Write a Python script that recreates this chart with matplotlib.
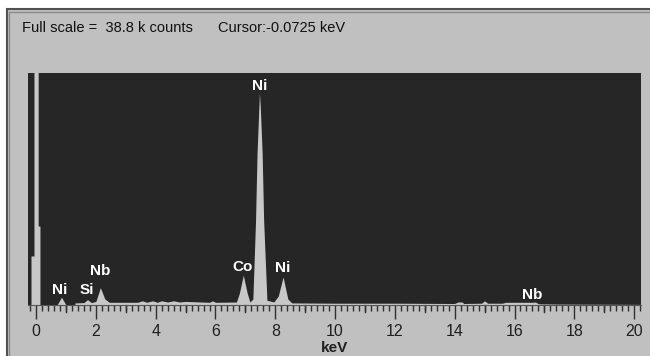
import matplotlib.pyplot as plt
from matplotlib.patches import Rectangle
from matplotlib.ticker import MultipleLocator

# outline of the spectrum: energy (keV), counts (k)
energy = [-0.27, -0.17, -0.17, -0.07, -0.07, 0.07, 0.07, 0.13, 0.13,
          0.70, 0.85, 1.00, 1.30, 1.30, 1.60, 1.72, 1.85, 2.00, 2.15, 2.30, 2.45,
          3.40, 3.55, 3.70, 3.90, 4.05, 4.20, 4.40, 4.60, 4.80, 5.00, 5.80, 5.90, 6.00,
          6.70, 6.80, 6.93, 7.06, 7.15, 7.25, 7.34, 7.39, 7.45, 7.47, 7.50, 7.56,
          7.61, 7.72, 7.95, 8.10, 8.26, 8.42, 8.55, 10.0, 12.0, 14.0, 14.1, 14.25,
          14.3, 14.9, 15.0, 15.1, 15.6, 15.7, 16.6, 16.7, 16.8, 17.5, 20.23]
counts = [0, 0, 8.2, 8.2, 45, 45, 13.2, 13.2, 0,
          0, 1.3, 0, 0, 0.35, 0.4, 0.9, 0.4, 0.6, 2.9, 1.0, 0.45,
          0.45, 0.7, 0.45, 0.7, 0.45, 0.7, 0.5, 0.7, 0.5, 0.6, 0.45, 0.7, 0.45,
          0.5, 2.0, 5.0, 2.0, 0.5, 1.0, 14.2, 25.4, 33.0, 35.5, 33.0, 25.4,
          14.2, 0.8, 0.5, 1.5, 4.7, 1.0, 0.35, 0.3, 0.3, 0.25, 0.5, 0.5,
          0.25, 0.3, 0.7, 0.3, 0.3, 0.45, 0.45, 0.5, 0.2, 0.15, 0.1]

# peak labels: text, energy, counts
labels = ["Ni", "Si", "Nb", "Co", "Ni", "Ni", "Nb"]
label_x = [0.80, 1.70, 2.15, 6.90, 8.25, 7.47, 16.60]
label_y = [2.5, 2.5, 5.7, 6.4, 6.2, 36.6, 1.7]

full_scale = 38.8
header = "Full scale =  38.8 k counts"
cursor = "Cursor:-0.0725 keV"

plt.rcParams['font.family'] = ['Liberation Sans', 'DejaVu Sans']

W, H = 650, 356
fig = plt.figure(figsize=(6.5, 3.56), dpi=100, facecolor="white")

# window panel
fig.patches.append(Rectangle((7 / W, -0.1), 1, 1.1 - 9 / H, transform=fig.transFigure,
                             facecolor="#c0c0c0", edgecolor="#505050", linewidth=1.5,
                             zorder=-5))
fig.patches.append(Rectangle((9 / W, -0.1), 1, 1.1 - 12 / H, transform=fig.transFigure,
                             facecolor="#c0c0c0", edgecolor="#8a8a8a", linewidth=1,
                             zorder=-4))

fig.text(22 / W, 1 - 28 / H, header, fontsize=10.5, va="center", ha="left", color="#101010")
fig.text(218 / W, 1 - 28 / H, cursor, fontsize=10.5, va="center", ha="left", color="#101010")

ax = fig.add_axes([28 / W, 1 - 305 / H, 613 / W, 232 / H])
ax.set_facecolor("#262626")
ax.fill_between(energy, counts, 0, color="#c8c8c8", linewidth=0)
ax.set_xlim(-0.27, 20.23)
ax.set_ylim(0, full_scale)

for t, x, y in zip(labels, label_x, label_y):
    ax.text(x, y, t, color="white", fontsize=11, fontweight="bold",
            ha="center", va="center")

for s in ["top", "left", "right"]:
    ax.spines[s].set_visible(False)
ax.spines["bottom"].set_color("#555555")
ax.set_yticks([])
ax.set_xticks(range(0, 21, 2))
ax.set_xticklabels([str(v) for v in range(0, 21, 2)])
ax.xaxis.set_minor_locator(MultipleLocator(0.2))
ax.tick_params(axis="x", which="major", length=10, width=1, color="#303030",
               labelsize=11.5, pad=4, labelcolor="#202020")
ax.tick_params(axis="x", which="minor", length=4, width=1, color="#303030")
# medium ticks at odd keV
for v in range(1, 20, 2):
    ax.plot([v, v], [0, -7 / 232 * full_scale], color="#303030", lw=1,
            clip_on=False)

ax.set_xlabel("keV", fontsize=11, fontweight="bold", labelpad=1, color="#202020")

fig.savefig("out.png", dpi=100, facecolor=fig.get_facecolor())
